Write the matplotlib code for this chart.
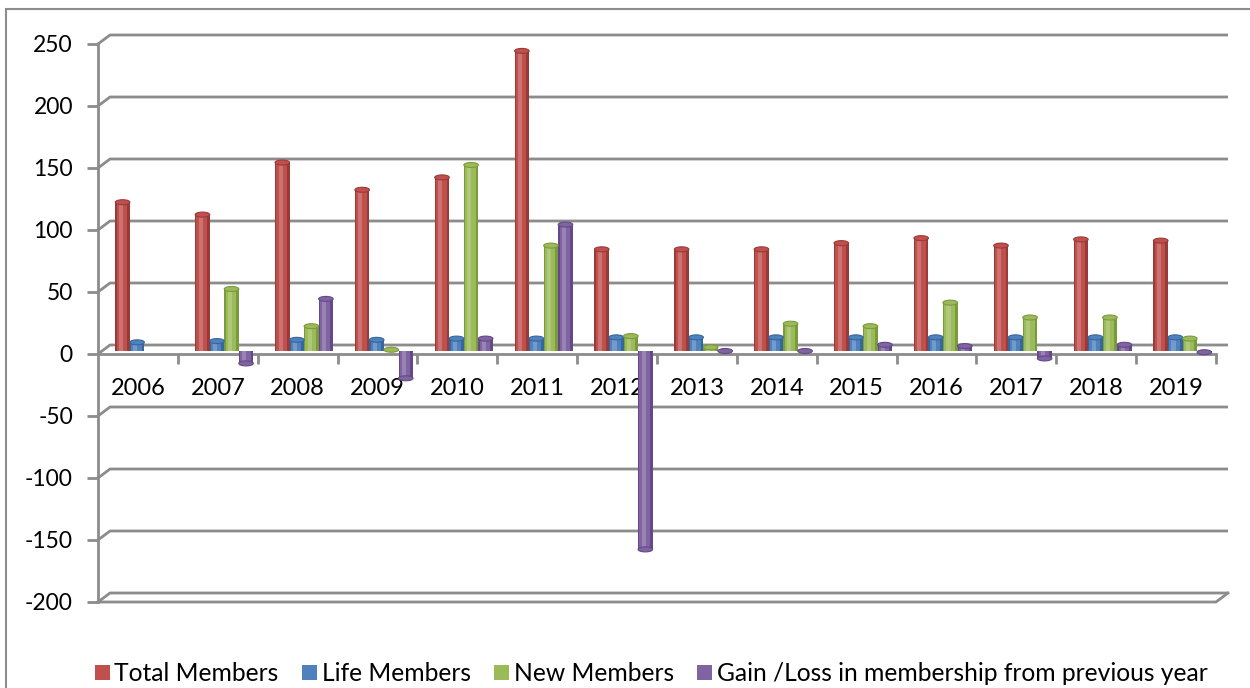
import numpy as np
import matplotlib.pyplot as plt
from matplotlib.patches import Ellipse, Rectangle
from matplotlib.transforms import ScaledTranslation

plt.rcParams['font.family'] = ['Lato', 'DejaVu Sans']
plt.rcParams['axes.unicode_minus'] = False

# data
years = ['2006', '2007', '2008', '2009', '2010', '2011', '2012',
         '2013', '2014', '2015', '2016', '2017', '2018', '2019']
total_members = [120, 110, 152, 130, 140, 242, 82, 82, 82, 87, 91, 85, 90, 89]
life_members = [7, 8, 9, 9, 10, 10, 11, 11, 11, 11, 11, 11, 11, 11]
new_members = [np.nan, 50, 20, 1, 150, 85, 12, 3, 22, 20, 39, 27, 27, 10]
gain_loss = [np.nan, -10, 42, -22, 10, 102, -160, 0, 0, 5, 4, -6, 5, -1]

series = [
    ('Total Members', total_members, '#C0504D', '#9A3A37'),
    ('Life Members', life_members, '#4F81BD', '#35669E'),
    ('New Members', new_members, '#9BBB59', '#7A9A3E'),
    ('Gain /Loss in membership from previous year', gain_loss, '#8064A2', '#634987'),
]

W, H = 1250, 688
fig = plt.figure(figsize=(W / 100, H / 100), dpi=100)

# plot area in pixels (front plane)
left, right, top, bottom = 98, 1216, 44, 602
ax = fig.add_axes([left / W, 1 - bottom / H, (right - left) / W, (bottom - top) / H])
ymin, ymax = -200, 250
n = len(years)
ax.set_xlim(0, n)
ax.set_ylim(ymin, ymax)

grid_col = '#8C8C8C'
px_x = n / (right - left)          # data units per pixel
px_y = (ymax - ymin) / (bottom - top)
ddx, ddy = 12 * px_x, 9 * px_y     # depth offset of the back wall

# back wall gridlines with slanted left ends
for v in range(ymin, ymax + 1, 50):
    ax.plot([0, ddx, n + ddx], [v, v + ddy, v + ddy], color=grid_col,
            lw=2, clip_on=False, zorder=1, solid_capstyle='butt')
# floor front edge at the bottom and its right slant
ax.plot([0, n, n + ddx], [ymin, ymin, ymin + ddy], color=grid_col,
        lw=2, clip_on=False, zorder=1)

# bars drawn as simple cylinders
bw = 0.182
start = 0.217
bar_tr = ax.transData + ScaledTranslation(0, 3 / 100, fig.dpi_scale_trans)
cap_h = 5 * px_y
xs = np.arange(n)
handles = []
for k, (name, vals, col, dark) in enumerate(series):
    vals = np.array(vals, dtype=float)
    xc = xs + start + k * bw + bw / 2
    ax.bar(xc, vals, width=bw, color=dark, lw=0, transform=bar_tr, zorder=3)
    ax.bar(xc - bw * 0.05, vals, width=bw * 0.72, color=col, lw=0,
           transform=bar_tr, zorder=3)
    ax.bar(xc - bw * 0.12, vals, width=bw * 0.28, color='white', alpha=0.2,
           lw=0, transform=bar_tr, zorder=4)
    for x, v in zip(xc, vals):
        if np.isnan(v):
            continue
        ax.add_patch(Ellipse((x, v), bw, cap_h, facecolor=col, edgecolor=dark,
                             lw=0.8, transform=bar_tr, zorder=5))
    handles.append(Rectangle((0, 0), 1, 1, facecolor=col, lw=0, label=name))

# left spine and category axis at zero
for s in ['top', 'right']:
    ax.spines[s].set_visible(False)
ax.spines['left'].set_color(grid_col)
ax.spines['left'].set_linewidth(2)
ax.spines['left'].set_zorder(2)
ax.spines['bottom'].set_position(('data', 0))
ax.spines['bottom'].set_color(grid_col)
ax.spines['bottom'].set_linewidth(2)
ax.spines['bottom'].set_zorder(2)
ax.set_yticks(range(ymin, ymax + 1, 50))
ax.tick_params(axis='y', length=8, width=2, color=grid_col, labelsize=16.5, pad=10)

ax.set_xticks(np.arange(1, n + 1))
ax.set_xticklabels([])
ax.set_xticks(xs + 0.5, minor=True)
ax.set_xticklabels(years, minor=True)
ax.tick_params(axis='x', which='major', length=7, width=2, color=grid_col)
ax.tick_params(axis='x', which='minor', length=0, labelsize=17, pad=17)

fig.legend(handles=handles, loc='lower left', bbox_to_anchor=(80 / W, -12 / H),
           ncol=4, frameon=False, fontsize=17.7, handlelength=0.6,
           handleheight=0.6, handletextpad=0.2, columnspacing=0.95,
           borderaxespad=0.2)

fig.patches.append(Rectangle((6 / W, -0.05), 1.1, 1 - 9 / H + 0.05,
                             transform=fig.transFigure, fill=False,
                             edgecolor=grid_col, lw=1.5))

fig.savefig('out.png', dpi=100, facecolor='white')
